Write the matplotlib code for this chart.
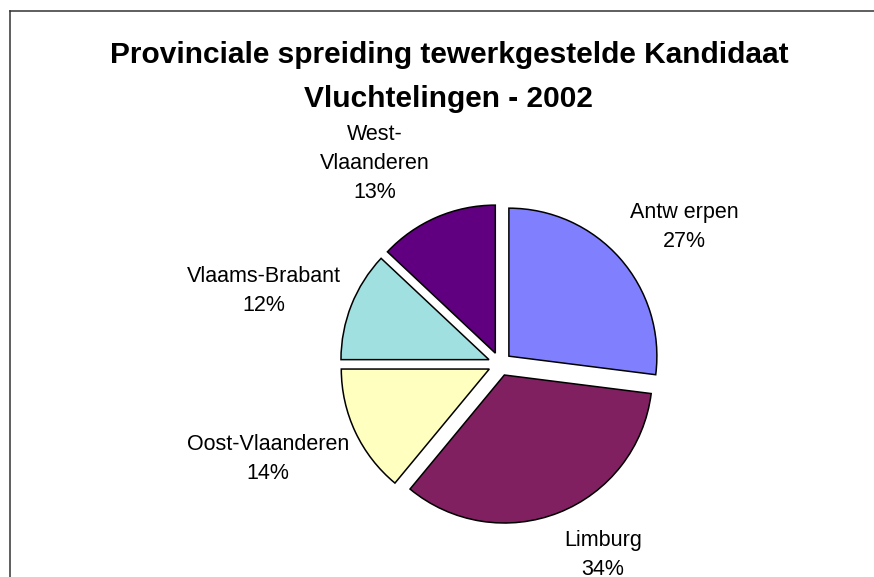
import matplotlib
matplotlib.use("Agg")
import matplotlib.pyplot as plt
from matplotlib.lines import Line2D

# data
provinces = ["Antw erpen", "Limburg", "Oost-Vlaanderen", "Vlaams-Brabant", "West-\nVlaanderen"]
shares = [27, 34, 14, 12, 13]
colors = ["#8080FF", "#802060", "#FFFFC0", "#A0E0E0", "#600080"]
title = "Provinciale spreiding tewerkgestelde Kandidaat\nVluchtelingen - 2002"

# label positions (in pie radius units, relative to the pie centre)
label_pos = [(1.243, 0.926), (0.696, -1.291), (-1.568, -0.642),
             (-1.595, 0.493), (-0.845, 1.358)]

plt.rcParams['font.family'] = ['Liberation Sans', 'DejaVu Sans']

W, H = 874, 577
fig = plt.figure(figsize=(W / 100, H / 100), dpi=100)
ax = fig.add_axes([0, 0, 1, 1])

ax.pie(shares, colors=colors, startangle=90, counterclock=False,
       explode=[0.08] * len(shares), radius=1,
       wedgeprops=dict(edgecolor="black", linewidth=1.1))

# pixel scale: radius = 148 px, centre at (500, 364) from top-left
R = 148
cx, cy = 500, 364
ax.set_xlim(-cx / R, (W - cx) / R)
ax.set_ylim(-(H - cy) / R, cy / R)
ax.set_aspect("equal")
ax.axis("off")

# the chart is cropped at the bottom, so the Limburg label is cut off as in the original
for name, val, (x, y) in zip(provinces, shares, label_pos):
    ax.text(x, y, f"{name}\n{val}%", ha="center", va="center",
            fontsize=15.5, linespacing=1.5, color="black")

fig.text(449 / W, 1 - 77 / H, title, ha="center", va="center",
         fontsize=21.5, fontweight="bold", linespacing=1.75)

# chart frame (only top and left edges are visible in the crop)
fig.add_artist(Line2D([9.5 / W, 1.0], [1 - 11 / H, 1 - 11 / H],
                      transform=fig.transFigure, color="#333333", linewidth=1.1))
fig.add_artist(Line2D([9.5 / W, 9.5 / W], [0, 1 - 11 / H],
                      transform=fig.transFigure, color="#333333", linewidth=1.1))

fig.savefig("out.png", dpi=100, facecolor="white")
